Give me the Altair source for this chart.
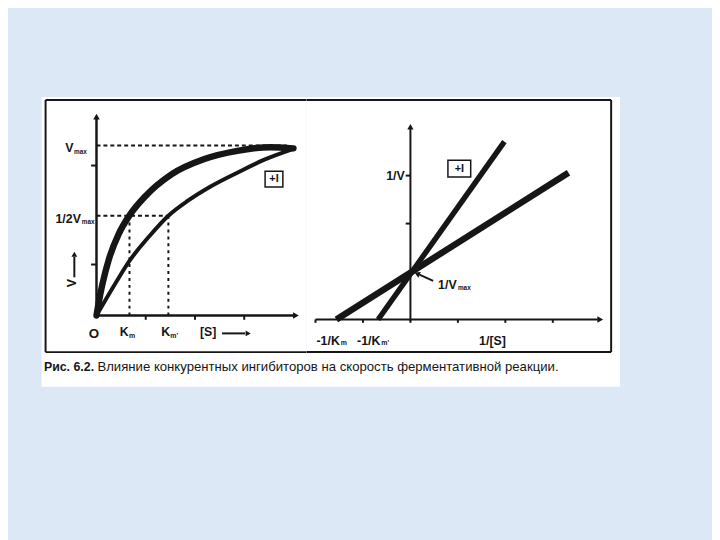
import altair as alt
import pandas as pd

BLUE = "#dce8f5"
INK = "#161616"
FONT = "Liberation Sans"

# ---------------- left panel: v against [S] (tick units, V in units of Vmax) ----------------
s_free = [0, 0.06, 0.117, 0.251, 0.452, 0.666, 0.987, 1.523, 2.192, 2.861, 3.53, 4.0]
v_free = [0, 0.10, 0.18, 0.33, 0.48, 0.587, 0.70, 0.83, 0.92, 0.968, 0.99, 0.983]
s_inh = [0, 0.385, 0.666, 1.054, 1.46, 1.857, 2.326, 2.861, 3.398, 4.0]
v_inh = [0, 0.19, 0.32, 0.46, 0.587, 0.675, 0.76, 0.84, 0.915, 0.98]
vmax = 1.0
half_vmax = 0.587
km_free = 0.67
km_inh = 1.46
left_xticks = [1, 2, 3]
left_yticks = [0.30, 0.882]

# ---------------- right panel: Lineweaver-Burk ----------------
lb_free_x = [-1.56, 3.33]
lb_free_y = [0.0, 3.06]
lb_inh_x = [-0.68, 1.98]
lb_inh_y = [0.0, 3.71]
right_xticks = [-2, -1, 0, 1, 2, 3]
right_yticks = [2, 3]

caption_bold = "Рис. 6.2."
caption_text = "Влияние конкурентных ингибиторов на скорость ферментативной реакции."

# ---------------- scales ----------------
LXS = alt.Scale(domain=[-1.1145, 4.2671], nice=False, zero=False)
LYS = alt.Scale(domain=[-0.2267, 1.2849], nice=False, zero=False)
RXS = alt.Scale(domain=[-2.1875, 4.4167], nice=False, zero=False)
RYS = alt.Scale(domain=[-0.7216, 4.6392], nice=False, zero=False)


def enc(ch, xs, ys, **extra):
    return ch.encode(
        x=alt.X("x:Q", scale=xs, axis=None),
        y=alt.Y("y:Q", scale=ys, axis=None),
        **extra,
    )


def segs(rows, xs, ys, **mark):
    df = pd.DataFrame(rows, columns=["x", "y", "x2", "y2"])
    return enc(alt.Chart(df).mark_rule(color=INK, **mark), xs, ys, x2="x2:Q", y2="y2:Q")


def pts(rows, xs, ys, **mark):
    df = pd.DataFrame(rows, columns=["x", "y"])
    return enc(alt.Chart(df).mark_point(filled=True, color=INK, opacity=1, **mark), xs, ys)


def texts(rows, xs, ys, **mark):
    df = pd.DataFrame(rows, columns=["x", "y", "t", "fs"])
    return enc(
        alt.Chart(df).mark_text(color=INK, font=FONT, **mark),
        xs, ys,
        text="t:N",
        size=alt.Size("fs:Q", scale=None, legend=None),
    )


def curve(sv, vv, xs, ys, w):
    df = pd.DataFrame({"x": sv, "y": vv, "i": range(len(sv))})
    return enc(
        alt.Chart(df).mark_line(color=INK, strokeWidth=w, strokeCap="round", interpolate="monotone"),
        xs, ys, order="i:Q",
    )


# ---------------- left panel ----------------
L_FL, L_FR, L_FT, L_FB = -1.034, 4.2671, 1.2674, -0.2151
left_layers = [
    segs([[L_FL, L_FT, L_FR, L_FT], [L_FL, L_FB, L_FR, L_FB], [L_FL, L_FB, L_FL, L_FT]], LXS, LYS, strokeWidth=2),
    segs([[0, vmax, 3.87, vmax], [0, half_vmax, km_inh, half_vmax]], LXS, LYS, strokeWidth=2, strokeDash=[4, 3]),
    segs([[km_free, 0, km_free, half_vmax], [km_inh, 0, km_inh, half_vmax]], LXS, LYS, strokeWidth=2, strokeDash=[3, 4]),
    segs([[0, -0.01, 0, 1.16], [0, 0, 4.02, 0]], LXS, LYS, strokeWidth=2.5),
    segs([[t, 0, t, -0.025] for t in left_xticks], LXS, LYS, strokeWidth=2),
    segs([[-0.11, t, 0, t] for t in left_yticks], LXS, LYS, strokeWidth=2),
    pts([[0, 1.17]], LXS, LYS, shape="triangle-up", size=45),
    pts([[4.05, 0]], LXS, LYS, shape="triangle-right", size=45),
    curve(s_inh, v_inh, LXS, LYS, 4),
    curve(s_free, v_free, LXS, LYS, 6.5),
    # V arrow and [S] arrow
    segs([[-0.45, 0.225, -0.45, 0.345], [2.55, -0.105, 3.02, -0.105]], LXS, LYS, strokeWidth=2),
    pts([[-0.45, 0.36]], LXS, LYS, shape="triangle-up", size=35),
    pts([[3.08, -0.105]], LXS, LYS, shape="triangle-right", size=35),
    # +I box
    enc(
        alt.Chart(pd.DataFrame({"x": [3.424], "y": [0.849], "x2": [3.785], "y2": [0.756]}))
        .mark_rect(fill="white", stroke=INK, strokeWidth=1.5),
        LXS, LYS, x2="x2:Q", y2="y2:Q",
    ),
    texts([[3.604, 0.802, "+I", 11]], LXS, LYS, fontWeight="bold", align="center", baseline="middle"),
    texts(
        [
            [-0.633, 0.983, "V", 12.5],
            [-0.833, 0.570, "1/2V", 12.5],
            [0.472, -0.099, "K", 12.5],
            [1.315, -0.099, "K", 12.5],
            [2.10, -0.099, "[S]", 12.5],
        ],
        LXS, LYS, fontWeight="bold", align="left", baseline="middle",
    ),
    texts(
        [
            [-0.455, 0.963, "max", 6.5],
            [-0.30, 0.550, "max", 6.5],
            [0.66, -0.118, "m", 7],
            [1.50, -0.118, "m'", 7],
        ],
        LXS, LYS, fontWeight="bold", align="left", baseline="middle",
    ),
    texts([[-0.05, -0.107, "O", 13.5]], LXS, LYS, fontWeight="bold", align="center", baseline="middle"),
    texts([[-0.492, 0.19, "V", 12.5]], LXS, LYS, fontWeight="bold", align="center", baseline="middle", angle=270),
]
left = alt.layer(*left_layers).properties(width=268, height=260)

# ---------------- right panel ----------------
R_FL, R_FR, R_FT, R_FB = -2.1875, 4.229, 4.577, -0.680
right_layers = [
    segs([[R_FL, R_FT, R_FR, R_FT], [R_FL, R_FB, R_FR, R_FB], [R_FR, R_FB, R_FR, R_FT]], RXS, RYS, strokeWidth=2),
    segs([[0, -0.03, 0, 3.98], [-2.0, 0, 3.95, 0]], RXS, RYS, strokeWidth=2),
    segs([[t, 0, t, -0.07] for t in right_xticks], RXS, RYS, strokeWidth=2),
    segs([[-0.1, t, 0, t] for t in right_yticks], RXS, RYS, strokeWidth=2),
    pts([[0, 4.02]], RXS, RYS, shape="triangle-up", size=40),
    pts([[4.0, 0]], RXS, RYS, shape="triangle-right", size=45),
    segs([[lb_free_x[0], lb_free_y[0], lb_free_x[1], lb_free_y[1]]], RXS, RYS, strokeWidth=6.5, strokeCap="butt"),
    segs([[lb_inh_x[0], lb_inh_y[0], lb_inh_x[1], lb_inh_y[1]]], RXS, RYS, strokeWidth=5.5, strokeCap="butt"),
    # pointer to 1/Vmax
    segs([[0.479, 0.804, 0.19, 0.934]], RXS, RYS, strokeWidth=2),
    pts([[0.14, 0.955]], RXS, RYS, shape="triangle-up", size=40, angle=294),
    enc(
        alt.Chart(pd.DataFrame({"x": [0.79], "y": [3.32], "x2": [1.27], "y2": [2.97]}))
        .mark_rect(fill="white", stroke=INK, strokeWidth=1.5),
        RXS, RYS, x2="x2:Q", y2="y2:Q",
    ),
    texts([[1.03, 3.145, "+I", 11]], RXS, RYS, fontWeight="bold", align="center", baseline="middle"),
    texts([[-0.12, 2.99, "1/V", 12.5]], RXS, RYS, fontWeight="bold", align="right", baseline="middle"),
    texts(
        [
            [0.583, 0.722, "1/V", 12.5],
            [-1.979, -0.454, "-1/K", 12.5],
            [-1.125, -0.454, "-1/K", 12.5],
        ],
        RXS, RYS, fontWeight="bold", align="left", baseline="middle",
    ),
    texts(
        [
            [1.0, 0.665, "max", 6.5],
            [-1.47, -0.50, "m", 7],
            [-0.615, -0.50, "m'", 7],
        ],
        RXS, RYS, fontWeight="bold", align="left", baseline="middle",
    ),
    texts([[1.729, -0.454, "1/[S]", 12.5]], RXS, RYS, fontWeight="bold", align="center", baseline="middle"),
]
right = alt.layer(*right_layers).properties(width=317, height=260)

# ---------------- caption ----------------
CXS = alt.Scale(domain=[0, 1], nice=False, zero=False)
CYS = alt.Scale(domain=[0, 1], nice=False, zero=False)
caption = alt.layer(
    texts([[0.004, 0.6, caption_bold, 12.5]], CXS, CYS, fontWeight="bold", align="left", baseline="middle"),
    texts([[0.0965, 0.6, caption_text, 13.3]], CXS, CYS, align="left", baseline="middle"),
).properties(width=585, height=33)

chart = (
    alt.vconcat(
        alt.hconcat(left, right, spacing=0, bounds="flush"),
        caption,
        spacing=0,
    )
    .properties(
        background=BLUE,
        padding={"left": 34, "top": 87, "right": 93, "bottom": 152},
    )
    .configure_view(stroke=None, fill="white")
    .configure_concat(spacing=0)
)

chart.save("out.html", embed_options={"renderer": "svg", "actions": False})
